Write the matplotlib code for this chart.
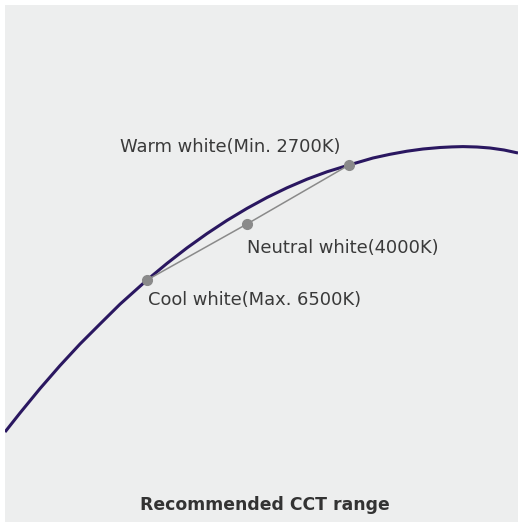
import matplotlib
matplotlib.use("Agg")
import matplotlib.pyplot as plt

# curve (x right, y down, in pixels of the panel)
curve_x = [5, 20, 40, 60, 80, 100, 120, 147, 167, 187, 207, 227, 247, 267, 287, 307,
           327, 349, 361, 373, 390, 407, 423, 440, 452, 463, 477, 490, 504, 518]
curve_y = [432, 413, 388.6, 365.6, 344, 324, 304.2, 280, 263.4, 247.9, 233.6, 220.4, 208.4,
           197.5, 187.8, 179.2, 171.8, 165, 161.5, 158, 154.3, 151.2, 149, 147.5, 146.9,
           146.6, 147, 148, 150, 153]

# CCT points
labels = ["Cool white(Max. 6500K)", "Neutral white(4000K)", "Warm white(Min. 2700K)"]
pt_x = [147, 247, 349]
pt_y = [280, 224, 165]

bg = "#edeeee"
fig = plt.figure(figsize=(5.18, 5.22), dpi=100)
fig.patch.set_facecolor("white")
ax = fig.add_axes([5 / 518, 0, 513 / 518, 517 / 522])
ax.set_facecolor(bg)
ax.set_xlim(5, 518)
ax.set_ylim(522, 5)
for s in ax.spines.values():
    s.set_visible(False)
ax.set_xticks([])
ax.set_yticks([])

ax.plot(curve_x, curve_y, color="#2a1760", lw=2.2, solid_capstyle="butt",
        solid_joinstyle="round", zorder=2)
ax.plot(pt_x, pt_y, color="#8a8a8a", lw=1.1, marker="o", ms=7, zorder=3)

txt = dict(fontsize=12.9, color="#3a3a3a", va="center", ha="left")
ax.text(148, 300, labels[0], **txt)
ax.text(247, 248, labels[1], **txt)
ax.text(120, 147, labels[2], **txt)

ax.text(265, 505, "Recommended CCT range", fontsize=12.4, fontweight="bold",
        color="#333333", ha="center", va="center")

fig.savefig("out.png", dpi=100, facecolor=fig.get_facecolor())
